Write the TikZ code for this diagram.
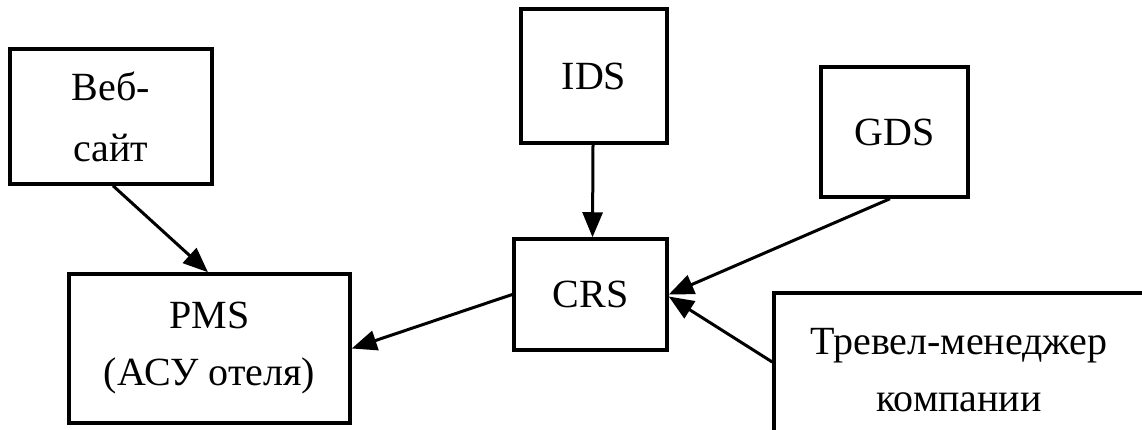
\documentclass[tikz,border=0pt]{standalone}
\usepackage{fontspec}
\setmainfont{Liberation Serif}
\usetikzlibrary{arrows.meta}
\begin{document}
\begin{tikzpicture}[x=1pt,y=-1pt,
  box/.style={draw=black,line width=3.5pt,rectangle,inner sep=0pt,align=center,
    font=\fontsize{40}{57}\selectfont},
  conn/.style={line width=3pt,-{Triangle[length=25pt,width=20pt]}}]
\useasboundingbox (0,0) rectangle (1142,430);
\clip (0,0) rectangle (1142,430);
\node[box,minimum width=202pt,minimum height=135pt,font=\fontsize{40}{61}\selectfont] (web) at (111,116.5) {Веб-\\сайт};
\node[box,minimum width=146pt,minimum height=134pt] (ids) at (594,76) {IDS};
\node[box,minimum width=147pt,minimum height=130pt] (gds) at (894.5,132) {GDS};
\node[box,minimum width=153pt,minimum height=111pt] (crs) at (590.5,294.5) {CRS};
\node[box,minimum width=281pt,minimum height=149pt] (pms) at (209.5,348.5) {PMS\\(АСУ отеля)};
\node[box,minimum width=370pt,minimum height=154pt] (trav) at (959,370) {Тревел-менеджер\\компании};
\draw[conn] ([xshift=2pt]web.south) -- ([xshift=-1.5pt]pms.north);
\draw[conn] ([xshift=-1pt]ids.south) -- ([xshift=2pt]crs.north);
\draw[conn] ([xshift=-4.5pt]gds.south) -- (crs.east);
\draw[conn] ([yshift=8pt]trav.west) -- ([yshift=-2pt]crs.east);
\draw[conn] (crs.west) -- (pms.east);
\end{tikzpicture}
\end{document}
